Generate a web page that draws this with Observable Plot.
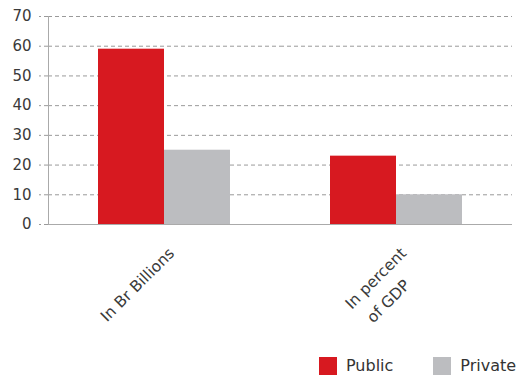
<!DOCTYPE html>
<html><head><meta charset="utf-8">
<script src="https://cdn.jsdelivr.net/npm/d3@7"></script>
<script src="https://cdn.jsdelivr.net/npm/@observablehq/plot@0.6"></script>
<style>
body{margin:0;background:#fff;font-family:"DejaVu Sans",sans-serif;}
#chart svg{display:block;}
#legend{display:flex;align-items:center;padding-left:319px;padding-top:10px;height:21px;font-size:16px;color:#333;}
.item{display:flex;align-items:center;margin-right:40px;}
.sw{width:18px;height:18px;margin-right:9px;}
</style></head><body><div id="chart"></div><div id="legend"></div>
<script>
const categories = ["In Br Billions", "In percent\nof GDP"];
const series = ["Public", "Private"];
const publicValues = [59, 23];
const privateValues = [25, 10];
const colors = ["#d71920", "#bcbdc0"];
const yTicks = [0, 10, 20, 30, 40, 50, 60, 70];

const data = categories.flatMap((c, i) => [
  {category: c, series: series[0], value: publicValues[i]},
  {category: c, series: series[1], value: privateValues[i]}
]);
const firstLine = d => d.split("\n")[0];
const secondLine = d => d.split("\n")[1] || "";

const chart = Plot.plot({
  width: 519, height: 345,
  marginLeft: 47, marginRight: 7, marginTop: 16, marginBottom: 121,
  style: {fontFamily: "DejaVu Sans, sans-serif", fontSize: "15px", color: "#3a3a3a", background: "white"},
  fx: {domain: categories, padding: 0, label: null, axis: null},
  x: {domain: series, paddingInner: 0, paddingOuter: 0.75, axis: null},
  y: {domain: [0, 70], label: null},
  color: {domain: series, range: colors},
  marks: [
    Plot.ruleY(yTicks.filter(d => d > 0), {stroke: "#9a9a9a", strokeDasharray: "4,3"}),
    Plot.axisY(yTicks, {tickSize: 9, tickPadding: 8, stroke: "#9a9a9a", strokeDasharray: "4,3", fontSize: 15, label: null, fill: "#3a3a3a"}),
    Plot.barY(data, {fx: "category", x: "series", y: "value", fill: "series"}),
    Plot.ruleY([0], {stroke: "#aaaaaa", strokeWidth: 1.2}),
    Plot.frame({anchor: "left", stroke: "#aaaaaa", facetAnchor: "left"}),
    Plot.text(categories, {fx: d => d, text: firstLine, frameAnchor: "bottom", rotate: -45, textAnchor: "end", lineAnchor: "top", dx: 3, dy: 22, fontSize: 15.5, fill: "#3a3a3a"}),
    Plot.text(categories.filter(d => secondLine(d)), {fx: d => d, text: secondLine, frameAnchor: "bottom", rotate: -45, textAnchor: "middle", lineAnchor: "middle", dx: -8, dy: 77, fontSize: 15.5, fill: "#3a3a3a"})
  ]
});
document.getElementById("chart").appendChild(chart);

const legend = document.getElementById("legend");
series.forEach((s, i) => {
  const item = document.createElement("div");
  item.className = "item";
  const sw = document.createElement("div");
  sw.className = "sw";
  sw.style.background = colors[i];
  const label = document.createElement("span");
  label.textContent = s;
  item.appendChild(sw);
  item.appendChild(label);
  legend.appendChild(item);
});
</script>
</body></html>
